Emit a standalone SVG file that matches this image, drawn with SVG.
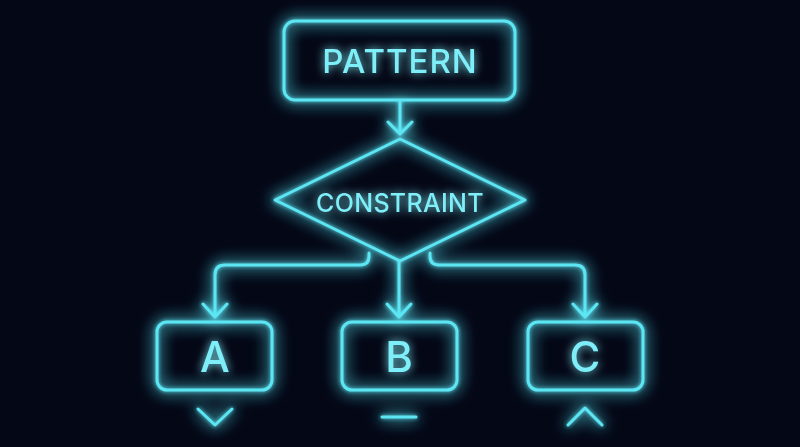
<svg xmlns="http://www.w3.org/2000/svg" width="800" height="447" viewBox="0 0 800 447">
  <defs>
    <filter id="glow" x="-30%" y="-30%" width="160%" height="160%">
      <feGaussianBlur in="SourceGraphic" stdDeviation="8" result="b1"/>
      <feGaussianBlur in="SourceGraphic" stdDeviation="2" result="b2"/>
      <feMerge>
        <feMergeNode in="b1"/>
        <feMergeNode in="b1"/>
        <feMergeNode in="b2"/>
        <feMergeNode in="SourceGraphic"/>
      </feMerge>
    </filter>
    <filter id="tglow" x="-30%" y="-30%" width="160%" height="160%">
      <feGaussianBlur in="SourceGraphic" stdDeviation="5" result="b1"/>
      <feMerge>
        <feMergeNode in="b1"/>
        <feMergeNode in="SourceGraphic"/>
      </feMerge>
    </filter>
    <style>
      .shape { fill: none; stroke: #5ce6f4; stroke-width: 3; stroke-linecap: round; stroke-linejoin: round; }
      .lbl { fill: #7eeef8; font-family: "Inter", "Liberation Sans", sans-serif; font-weight: 500; text-anchor: middle; }
    </style>
  </defs>
  <rect width="800" height="447" fill="#040716"/>
  <g filter="url(#glow)">
    <g id="pattern">
      <rect class="shape" x="284" y="21" width="231" height="79" rx="11"/>
    </g>
    <g id="constraint">
      <polygon class="shape" points="400,139 525,200 400,261 275,200"/>
    </g>
    <g id="a">
      <rect class="shape" x="157" y="322" width="115" height="68" rx="10"/>
      <polyline class="shape" points="198,409 215,425 232,409"/>
    </g>
    <g id="b">
      <rect class="shape" x="342" y="322" width="115" height="68" rx="10"/>
      <line class="shape" x1="382" y1="417" x2="416" y2="417"/>
    </g>
    <g id="c">
      <rect class="shape" x="528" y="322" width="115" height="68" rx="10"/>
      <polyline class="shape" points="568,425 585,408 602,425"/>
    </g>
    <g id="connectors">
      <path class="shape" d="M400,101 V134 M388,122 L400,134 L412,122"/>
      <path class="shape" d="M369,253 V256 Q369,265 360,265 H225 Q215,265 215,275 V317 M203,304 L215,317 L227,304"/>
      <path class="shape" d="M399,261 V317 M387,304 L399,317 L411,304"/>
      <path class="shape" d="M430,253 V256 Q430,265 439,265 H575 Q585,265 585,275 V317 M573,304 L585,317 L597,304"/>
    </g>
  </g>
  <g id="labels" filter="url(#tglow)">
    <text class="lbl" x="400" y="73" font-size="33" letter-spacing="1">PATTERN</text>
    <text class="lbl" x="400" y="212" font-size="25" letter-spacing="0.3">CONSTRAINT</text>
    <text class="lbl" x="215" y="372" font-size="42">A</text>
    <text class="lbl" x="399" y="372" font-size="42">B</text>
    <text class="lbl" x="585" y="372" font-size="42">C</text>
  </g>
</svg>
